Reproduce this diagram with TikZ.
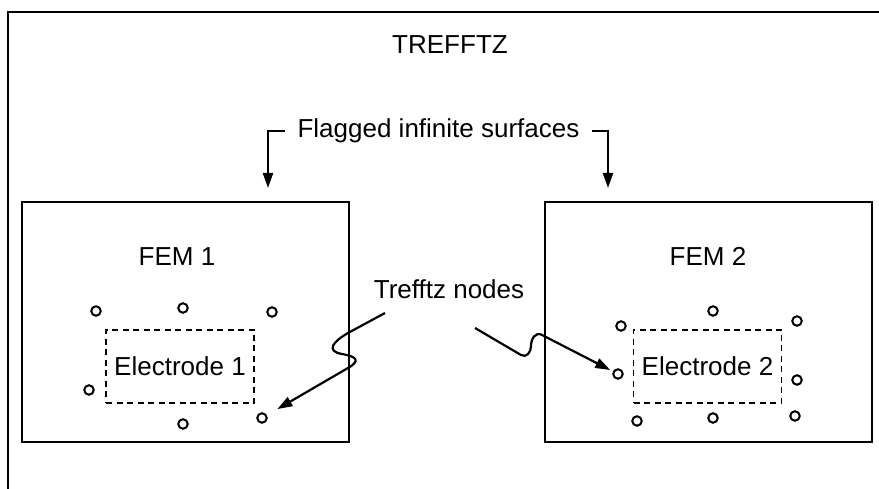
\documentclass[tikz,border=0pt]{standalone}
\usepackage{fontspec}
\setmainfont{Liberation Sans}
\usetikzlibrary{arrows.meta,positioning}

\tikzset{
  femBox/.style={draw, line width=2.3pt, minimum width=327pt, minimum height=240pt, inner sep=0pt},
  elecBox/.style={draw, line width=1.7pt, dash pattern=on 6pt off 4.5pt, minimum width=148pt, minimum height=73pt, inner sep=0pt},
  tnode/.style={draw, circle, line width=2pt, minimum size=9.5pt, inner sep=0pt},
  pointer/.style={line width=2.2pt, -{Triangle[length=15pt,width=10pt]}},
}

\begin{document}
\begin{tikzpicture}[x=1pt, y=1pt, font=\fontsize{26pt}{30pt}\selectfont]
        \useasboundingbox (0,0) rectangle (879,489);
        \clip (0,0) rectangle (879,489);

        % Outer region - Trefftz
        \draw[line width=2.6pt] (8,-20) -- (8,477) -- (900,477);
        \node (trefftz) at (450,444) {TREFFTZ};

        % Flagged surfaces label with its two brackets
        \coordinate (flagL) at (268,301);
        \coordinate (flagR) at (608,301);
        \node[inner xsep=12pt, anchor=base] (flag) at (438.5,351) {Flagged infinite surfaces};
        \draw[pointer] (flag.west) -| (flagL);
        \draw[pointer] (flag.east) -| (flagR);

        % Box 1 - FEM 1 (left)
        \node[femBox] (fem1) at (185.5,167) {};
        \node (fem1lbl) at (177,232.5) {FEM 1};
        \node[elecBox] (el1) at (180,122.5) {Electrode 1};
        \node[tnode] (n1a) at (96,178) {};
        \node[tnode] (n1b) at (183,181) {};
        \node[tnode] (n1c) at (272,177) {};
        \node[tnode] (n1d) at (89,99) {};
        \node[tnode] (n1e) at (183,65) {};
        \node[tnode] (n1f) at (262,71) {};

        % Box 2 - FEM 2 (right)
        \node[femBox] (fem2) at (708.5,167) {};
        \node (fem2lbl) at (708,232.5) {FEM 2};
        \node[elecBox] (el2) at (707.5,122.5) {Electrode 2};
        \node[tnode] (n2a) at (621,163) {};
        \node[tnode] (n2b) at (713,178) {};
        \node[tnode] (n2c) at (797,168) {};
        \node[tnode] (n2d) at (618,115) {};
        \node[tnode] (n2e) at (797,109) {};
        \node[tnode] (n2f) at (637,68) {};
        \node[tnode] (n2g) at (713,71) {};
        \node[tnode] (n2h) at (795,73) {};

        % Trefftz nodes label and its broken pointers
        \node (tlbl) at (449,200) {Trefftz nodes};
        \coordinate (tstartL) at (385,176);
        \coordinate (tstartR) at (475,161);
        \draw[pointer, shorten >=12pt] (tstartL) -- (348,156)
            to[out=210, in=170, looseness=2] (342,135)
            to[out=-10, in=30, looseness=2.5] (348,121) -- (n1f);
        \draw[pointer, shorten >=3pt] (tstartR) -- (521,134)
            to[out=-30, in=-90, looseness=1.2] (531,143)
            to[out=90, in=150, looseness=1.2] (542,154) -- (n2d);
    \end{tikzpicture}
\end{document}
